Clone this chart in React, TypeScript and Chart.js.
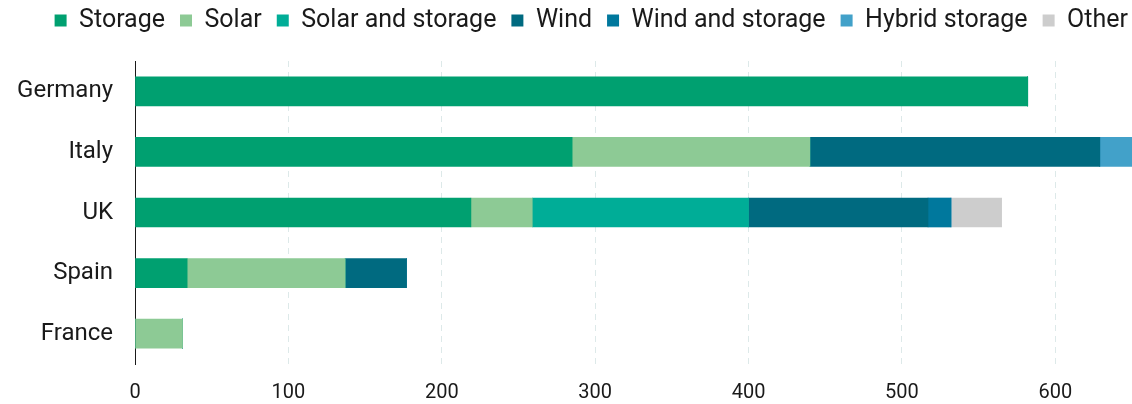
import React, { useEffect, useRef } from "react";
import { Chart, registerables } from "chart.js";

Chart.register(...registerables);

const countries = ["Germany", "Italy", "UK", "Spain", "France"];
const storage = [582, 285, 219, 34, 0];
const solar = [0, 155, 40, 103, 31];
const solarAndStorage = [0, 0, 141, 0, 0];
const wind = [0, 189, 117, 40, 0];
const windAndStorage = [0, 0, 15, 0, 0];
const hybridStorage = [0, 22, 0, 0, 0];
const other = [0, 0, 33, 0, 0];
const xTicks = [0, 100, 200, 300, 400, 500, 600];

const FONT = "Roboto, 'DejaVu Sans', sans-serif";

const legendMargin = {
  id: "legendMargin",
  beforeInit(chart: any) {
    const lg = chart.legend;
    const origFit = lg.fit;
    lg.fit = function () {
      origFit.call(lg);
      lg.height += 18;
    };
    const origDraw = lg.draw;
    lg.draw = function (...args: any[]) {
      const c = chart.ctx;
      c.save();
      c.translate(11, 0);
      origDraw.apply(lg, args);
      c.restore();
    };
  },
};

export default function App() {
  const ref = useRef<HTMLCanvasElement | null>(null);
  useEffect(() => {
    document.body.style.margin = "0";
    const ctx = ref.current!;
    const ds = (label: string, data: number[], color: string) => ({
      label,
      data,
      backgroundColor: color,
      borderWidth: 0,
      barThickness: 29,
    });
    const chart = new Chart(ctx, {
      type: "bar",
      data: {
        labels: countries,
        datasets: [
          ds("Storage", storage, "#00a070"),
          ds("Solar", solar, "#8dca95"),
          ds("Solar and storage", solarAndStorage, "#00ad97"),
          ds("Wind", wind, "#006a80"),
          ds("Wind and storage", windAndStorage, "#00789d"),
          ds("Hybrid storage", hybridStorage, "#42a1c9"),
          ds("Other", other, "#cdcdcd"),
        ],
      },
      plugins: [legendMargin],
      options: {
        indexAxis: "y",
        animation: false,
        responsive: false,
        maintainAspectRatio: false,
        layout: { padding: { left: 0, right: 0, top: -7, bottom: 0 } },
        plugins: {
          tooltip: { enabled: false },
          legend: {
            position: "top",
            align: "end",
            labels: {
              boxWidth: 12,
              boxHeight: 12,
              padding: 15,
              color: "#1a1a1a",
              font: { family: FONT, size: 25 },
            },
          },
        },
        scales: {
          x: {
            stacked: true,
            min: 0,
            max: 650,
            afterBuildTicks: (scale: any) => {
              scale.ticks = xTicks.map((v) => ({ value: v }));
            },
            afterFit: (scale: any) => {
              scale.height = 40;
            },
            grid: {
              color: "#dde9e9",
              lineWidth: 1,
              drawTicks: false,
            },
            border: { display: false, dash: [6, 5] },
            ticks: {
              color: "#1a1a1a",
              padding: 17,
              font: { family: FONT, size: 20 },
            },
          },
          y: {
            stacked: true,
            afterFit: (scale: any) => {
              scale.width = 135;
            },
            grid: { display: false, drawTicks: false },
            border: { display: true, color: "#1a1a1a", width: 1 },
            ticks: {
              color: "#1a1a1a",
              padding: 22,
              font: { family: FONT, size: 24 },
            },
          },
        },
      },
    } as any);
    return () => chart.destroy();
  }, []);
  return <canvas ref={ref} width={1132} height={404} style={{ display: "block" }} />;
}
